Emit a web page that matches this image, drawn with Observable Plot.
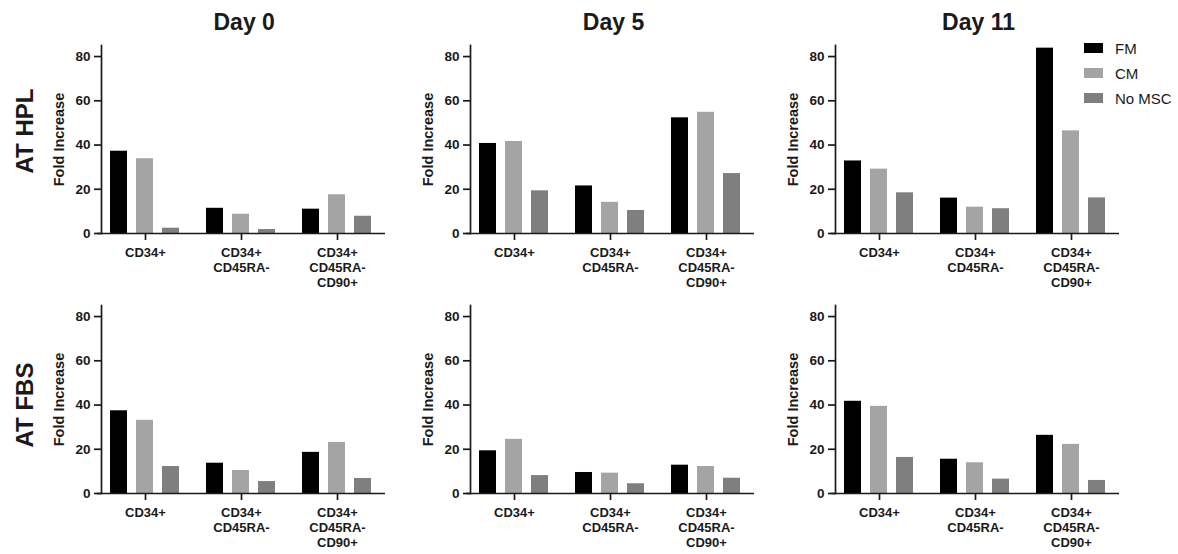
<!DOCTYPE html>
<html>
<head>
<meta charset="utf-8">
<script src="https://cdn.jsdelivr.net/npm/d3@7"></script>
<script src="https://cdn.jsdelivr.net/npm/@observablehq/plot@0.6"></script>
<style>
  body { margin: 0; background: #fff; }
  #root { position: relative; width: 1178px; height: 554px; overflow: hidden;
          font-family: "Liberation Sans", Arial, sans-serif; color: #1a1a1a; background: #fff; }
  .panel { position: absolute; }
  .title { position: absolute; font-size: 23px; font-weight: bold; line-height: 23px; text-align: center; white-space: nowrap; }
  .rowlabel { position: absolute; font-size: 24px; font-weight: bold; line-height: 24px; white-space: nowrap;
              transform: translate(-50%, -50%) rotate(-90deg); }
  .legendbox { position: absolute; left: 1084px; top: 35.5px; }
  .lg-swatches { font-family: "Liberation Sans", Arial, sans-serif; font-size: 15px; margin: 0; min-height: 0; color: #1a1a1a; }
  .lg-swatch { height: 25px; padding-bottom: 0; }
  .lg-swatch > svg { margin-right: 12px; }
</style>
</head>
<body>
<div id="root"></div>
<script>
// ---- data ----
const days = ["Day 0", "Day 5", "Day 11"];
const media = ["AT HPL", "AT FBS"];
const categories = ["CD34+", "CD34+\nCD45RA-", "CD34+\nCD45RA-\nCD90+"];
const series = ["FM", "CM", "No MSC"];
const colors = ["#000000", "#a4a4a4", "#7f7f7f"];
const yTicks = [0, 20, 40, 60, 80];
const yLabel = "Fold Increase";

// rows = categories, columns = series (FM, CM, No MSC)
const hplDay0  = [[37.2, 33.8, 2.4], [11.4, 8.7, 1.8], [11.0, 17.5, 7.8]];
const hplDay5  = [[40.7, 41.6, 19.3], [21.5, 14.1, 10.4], [52.3, 54.8, 27.1]];
const hplDay11 = [[32.8, 29.1, 18.4], [16.0, 11.9, 11.2], [83.8, 46.4, 16.1]];
const fbsDay0  = [[37.4, 33.1, 12.2], [13.7, 10.4, 5.4], [18.6, 23.1, 6.8]];
const fbsDay5  = [[19.3, 24.5, 8.1], [9.5, 9.2, 4.4], [12.8, 12.2, 6.9]];
const fbsDay11 = [[41.7, 39.4, 16.3], [15.5, 13.9, 6.5], [26.3, 22.2, 5.9]];

const panels = [
  [hplDay0, hplDay5, hplDay11],
  [fbsDay0, fbsDay5, fbsDay11]
];

// ---- layout ----
const FONT = "'Liberation Sans', Arial, sans-serif";
const INK = "#1a1a1a";
const axisXs = [100.7, 470, 835];   // left edge of each column's plot area
const axisTops = [45, 305];         // top edge of each row's plot area
const ML = 62, MR = 10, MT = 10, MB = 56, PW = 287, PH = 188;
const SHIFT = 4.5;                  // groups start slightly left of the y axis
const yDomain = [0, 85];

const common = {
  width: ML + PW + MR,
  height: MT + PH + MB,
  marginLeft: ML, marginRight: MR, marginTop: MT, marginBottom: MB,
  style: {background: "transparent", fontFamily: FONT, color: INK, overflow: "visible"}
};

function makeBars(values) {
  const data = [];
  categories.forEach((c, i) => series.forEach((s, j) => data.push({category: c, series: s, value: values[i][j]})));
  return Plot.plot({
    ...common,
    fx: {domain: categories, padding: 0, label: null, insetLeft: -SHIFT, insetRight: 2.5},
    x: {domain: series, paddingInner: 0.335, paddingOuter: 0.5, axis: null},
    y: {domain: yDomain, label: null, axis: null},
    color: {domain: series, range: colors},
    marks: [
      Plot.barY(data, {fx: "category", x: "series", y: "value", fill: "series"}),
      Plot.ruleY([0], {stroke: INK, strokeWidth: 1.7}),
      Plot.axisFx({anchor: "bottom", tickSize: 7, tickPadding: 6, fontSize: 13, fontWeight: "bold",
                   lineHeight: 1.15, label: null, strokeWidth: 1.7, stroke: INK, fill: INK})
    ]
  });
}

function makeYAxis() {
  return Plot.plot({
    ...common,
    x: {axis: null},
    y: {domain: yDomain, label: null},
    marks: [
      Plot.frame({anchor: "left", stroke: INK, strokeWidth: 1.7}),
      Plot.axisY({ticks: yTicks, tickSize: 7, tickPadding: 4, fontSize: 13.5, fontWeight: "bold",
                  label: null, strokeWidth: 1.7, stroke: INK, fill: INK}),
      Plot.axisY({ticks: [], tickSize: 0, label: yLabel, labelAnchor: "center", labelArrow: false,
                  labelOffset: 48, fontSize: 14.5, fontWeight: "bold", fill: INK})
    ]
  });
}

const root = document.getElementById("root");

panels.forEach((row, r) => {
  row.forEach((values, c) => {
    for (const svg of [makeBars(values), makeYAxis()]) {
      svg.classList.add("panel");
      svg.style.left = (axisXs[c] - ML) + "px";
      svg.style.top = (axisTops[r] - MT) + "px";
      root.appendChild(svg);
    }
  });
});

days.forEach((d, c) => {
  const t = document.createElement("div");
  t.className = "title";
  t.textContent = d;
  t.style.left = axisXs[c] + "px";
  t.style.width = PW + "px";
  t.style.top = "10.5px";
  root.appendChild(t);
});

const rowCenters = [131, 405];
media.forEach((m, r) => {
  const t = document.createElement("div");
  t.className = "rowlabel";
  t.textContent = m;
  t.style.left = "25px";
  t.style.top = rowCenters[r] + "px";
  root.appendChild(t);
});

const legendBox = document.createElement("div");
legendBox.className = "legendbox";
legendBox.appendChild(Plot.legend({
  color: {domain: series, range: colors},
  columns: 1, swatchWidth: 19, swatchHeight: 10, className: "lg"
}));
root.appendChild(legendBox);
</script>
</body>
</html>
